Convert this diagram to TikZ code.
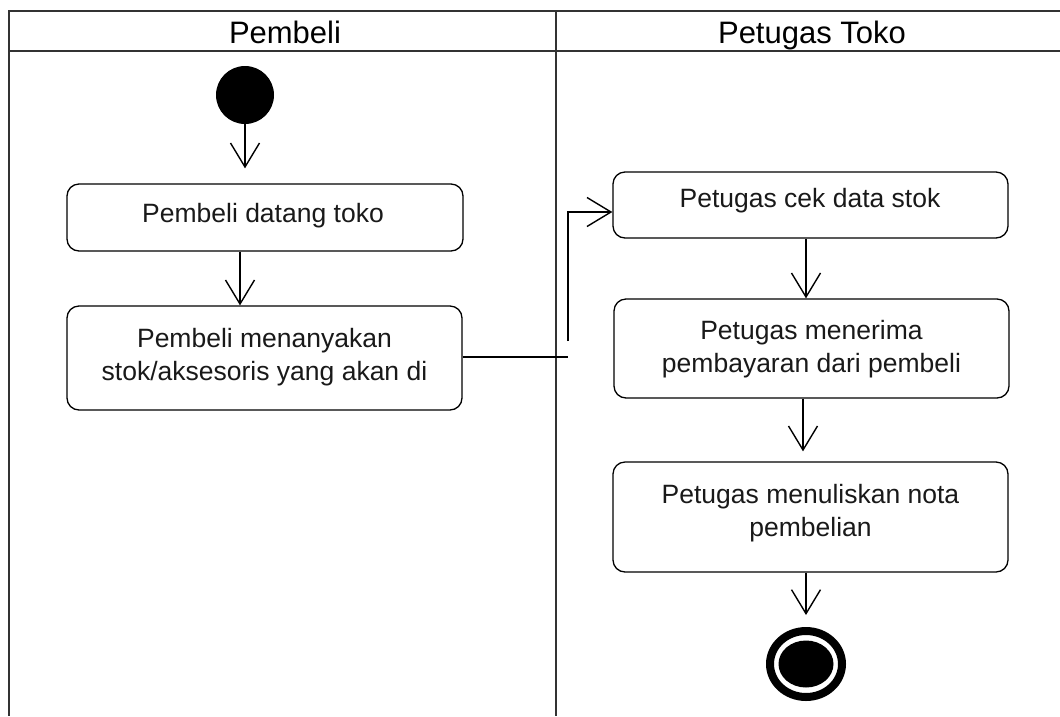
\documentclass[tikz,border=0pt]{standalone}
\usepackage{fontspec}
\setmainfont{Liberation Sans}
\usetikzlibrary{arrows.meta,shapes.geometric}
\begin{document}
\begin{tikzpicture}[x=1pt,y=-1pt,
  lane/.style={draw=black!80, line width=2pt},
  actbox/.style={draw, rounded corners=12pt, line width=1.3pt, inner sep=0pt},
  wire/.style={line width=1.4pt},
  flow/.style={wire, -{Straight Barb[length=24pt,width=29pt,line width=1.4pt]}},
  lbl/.style={font=\fontsize{26.5}{32}\selectfont, anchor=base, inner sep=0pt, text=black!90},
  head/.style={font=\fontsize{31}{36}\selectfont, anchor=base, inner sep=0pt}]
\useasboundingbox (0,0) rectangle (1060,716);

% swimlanes
\draw[lane] (1060,11) -- (9,11) -- (9,716);
\draw[lane] (9,51) -- (1060,51);
\draw[lane] (556,11) -- (556,716);
\node[head] (hpembeli) at (285,43) {Pembeli};
\node[head] (hpetugas) at (812,43) {Petugas Toko};

% initial and final nodes
\node[circle, fill=black, minimum size=58pt, inner sep=0pt] (start) at (245,95) {};
\node[ellipse, draw=black, line width=8pt, minimum width=72pt, minimum height=66pt, inner sep=0pt] (end) at (806,664) {};
\fill (end.center) ellipse [x radius=27.5, y radius=23.5];

% actions
\node[actbox, minimum width=396pt, minimum height=67pt] (b1) at (265,217.5) {};
\node[actbox, minimum width=395pt, minimum height=104pt] (b2) at (264.5,358) {};
\node[actbox, minimum width=395pt, minimum height=66pt] (b3) at (810.5,205) {};
\node[actbox, minimum width=395pt, minimum height=99pt] (b4) at (811.5,348.5) {};
\node[actbox, minimum width=395pt, minimum height=110pt] (b5) at (810.5,517) {};

\node[lbl] (t1) at (263,222) {Pembeli datang toko};
\node[lbl] (t2a) at (264.5,347) {Pembeli menanyakan};
\node[lbl] (t2b) at (264.5,380) {stok/aksesoris yang akan di};
\node[lbl] (t3) at (810,207) {Petugas cek data stok};
\node[lbl] (t4a) at (811.5,339) {Petugas menerima};
\node[lbl] (t4b) at (811.5,372) {pembayaran dari pembeli};
\node[lbl] (t5a) at (810.5,503) {Petugas menuliskan nota};
\node[lbl] (t5b) at (810.5,536) {pembelian};

% control flows
\draw[flow, shorten >=15pt] (start.south) -- (start.south |- b1.north);
\draw[flow] ([xshift=-25pt]b1.south) -- ([xshift=-25pt]b1.south |- b2.north);

\coordinate (j1) at (568,357);
\coordinate (j2) at (568,341);
\draw[wire] (b2.east |- j1) -- (j1);
\draw[flow] (j2) |- ([yshift=-7pt]b3.west);

\draw[flow] ([xshift=-4.5pt]b3.south) -- ([xshift=-4.5pt]b3.south |- b4.north);
\draw[flow, shorten >=10pt] ([xshift=-8.5pt]b4.south) -- ([xshift=-8.5pt]b4.south |- b5.north);
\draw[flow, shorten >=12pt] (b5.south -| end.north) -- (end.north);
\end{tikzpicture}
\end{document}
